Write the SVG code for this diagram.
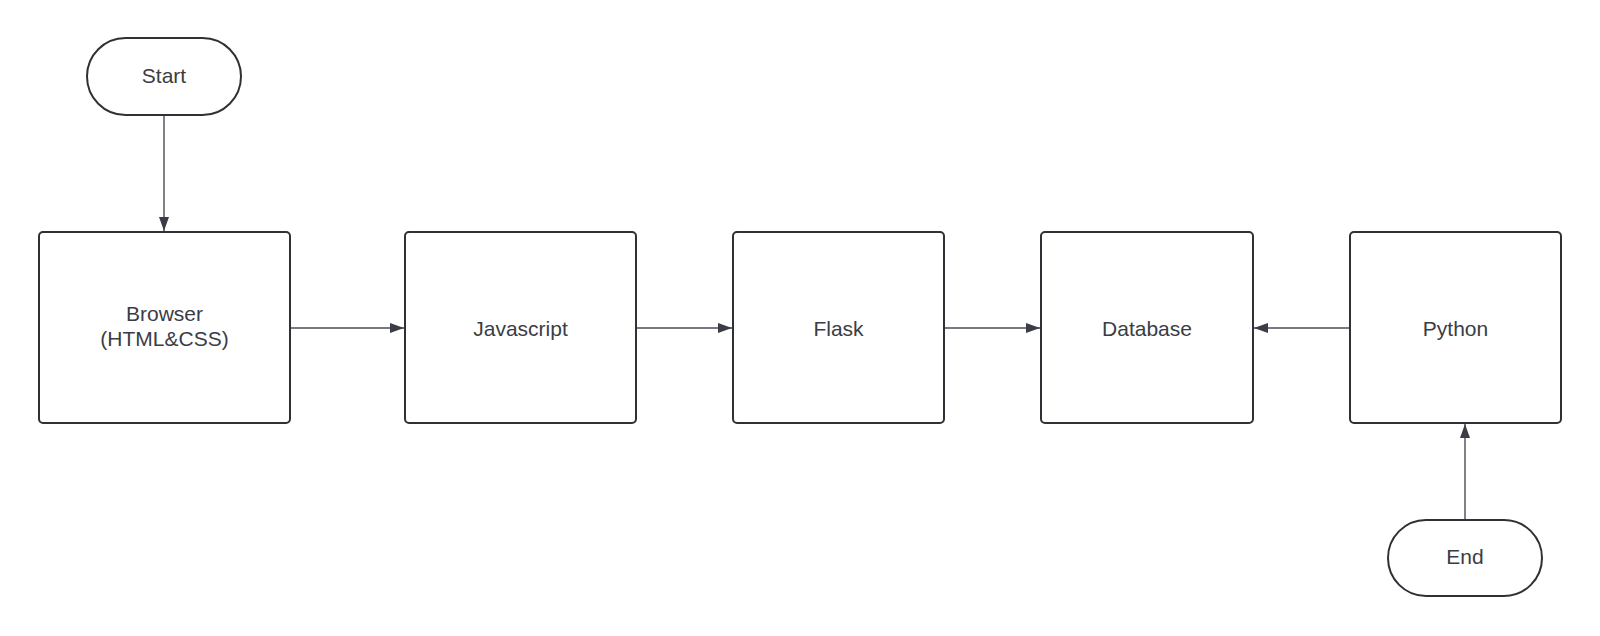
<svg xmlns="http://www.w3.org/2000/svg" width="1600" height="636" viewBox="0 0 1600 636">
<style>
.box{fill:#fff;stroke:#2f3136;stroke-width:2}
.lbl{font-family:"Liberation Sans",Arial,sans-serif;font-size:21px;fill:#3a3d45;text-anchor:middle}
.edge{stroke:#4a4d55;stroke-width:1.4;fill:none}
</style>
<defs>
<marker id="ah" viewBox="0 0 14 10" refX="14" refY="5" markerWidth="14" markerHeight="10" markerUnits="userSpaceOnUse" orient="auto">
<path d="M0,0 L14,5 L0,10 Z" fill="#3a3d45"/>
</marker>
</defs>
<rect width="1600" height="636" fill="#fff"/>
<g id="connectors">
<line class="edge" x1="164" y1="116" x2="164" y2="231" marker-end="url(#ah)"/>
<line class="edge" x1="290" y1="328" x2="404" y2="328" marker-end="url(#ah)"/>
<line class="edge" x1="636" y1="328" x2="732" y2="328" marker-end="url(#ah)"/>
<line class="edge" x1="944" y1="328" x2="1040" y2="328" marker-end="url(#ah)"/>
<line class="edge" x1="1350" y1="328" x2="1254" y2="328" marker-end="url(#ah)"/>
<line class="edge" x1="1465" y1="520" x2="1465" y2="424" marker-end="url(#ah)"/>
</g>
<g id="start">
<rect class="box" x="87" y="38" width="154" height="77" rx="38.5"/>
<text class="lbl" x="164" y="83">Start</text>
</g>
<g id="browser">
<rect class="box" x="39" y="232" width="251" height="191" rx="4"/>
<text class="lbl" x="164.5" y="321">Browser</text>
<text class="lbl" x="164.5" y="346">(HTML&amp;CSS)</text>
</g>
<g id="javascript">
<rect class="box" x="405" y="232" width="231" height="191" rx="4"/>
<text class="lbl" x="520.5" y="336">Javascript</text>
</g>
<g id="flask">
<rect class="box" x="733" y="232" width="211" height="191" rx="4"/>
<text class="lbl" x="838.5" y="336">Flask</text>
</g>
<g id="database">
<rect class="box" x="1041" y="232" width="212" height="191" rx="4"/>
<text class="lbl" x="1147" y="336">Database</text>
</g>
<g id="python">
<rect class="box" x="1350" y="232" width="211" height="191" rx="4"/>
<text class="lbl" x="1455.5" y="336">Python</text>
</g>
<g id="end">
<rect class="box" x="1388" y="520" width="154" height="76" rx="38"/>
<text class="lbl" x="1465" y="564">End</text>
</g>
</svg>
